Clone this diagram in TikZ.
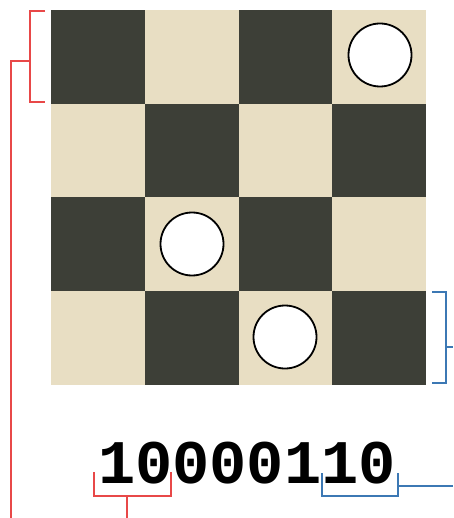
\documentclass[tikz,border=0pt]{standalone}
\usepackage{fontspec}
\newfontfamily\bitfont{Liberation Mono}
\definecolor{darksq}{HTML}{3D3F37}
\definecolor{lightsq}{HTML}{E8DEC3}
\definecolor{bred}{HTML}{E84848}
\definecolor{bblue}{HTML}{3C78B4}
\tikzset{
  redbr/.style={draw=bred, line width=2pt},
  bluebr/.style={draw=bblue, line width=2pt},
  piece/.style={circle, draw=black, fill=white, line width=1.8pt, minimum size=63pt, inner sep=0pt},
  bits/.style={font=\bitfont\bfseries\fontsize{62}{62}\selectfont, inner sep=0pt, anchor=base}
}
\begin{document}
\begin{tikzpicture}[x=1pt,y=-1pt]
\useasboundingbox (0,0) rectangle (453,518);
\foreach \r in {0,1,2,3}{
  \foreach \c in {0,1,2,3}{
    \pgfmathtruncatemacro{\sqpar}{mod(\r+\c,2)}
    \ifnum\sqpar=0
      \fill[darksq] ({51+\c*93.75},{10+\r*93.75}) rectangle ++(93.75,93.75);
    \else
      \fill[lightsq] ({51+\c*93.75},{10+\r*93.75}) rectangle ++(93.75,93.75);
    \fi
  }
}
\node[piece] (p1) at (380,55) {};
\node[piece] (p2) at (192,244) {};
\node[piece] (p3) at (285,337) {};
\node[bits] (code) at (247,483) {10000110};
% left red bracket
\draw[redbr] (45,11) -- (30,11) -- (30,102) -- (45,102);
\draw[redbr] (30,61) -- (11,61) -- (11,518);
% right blue bracket
\draw[bluebr] (432,292) -- (446,292) -- (446,383) -- (432,383);
\draw[bluebr] (446,347) -- (453,347);
% under red bracket
\draw[redbr] (94,472) -- (94,496) -- (171,496) -- (171,472);
\draw[redbr] (127,496) -- (127,518);
% under blue bracket
\draw[bluebr] (322,473) -- (322,496) -- (398,496) -- (398,473);
\draw[bluebr] (398,486) -- (453,486);
\end{tikzpicture}
\end{document}
